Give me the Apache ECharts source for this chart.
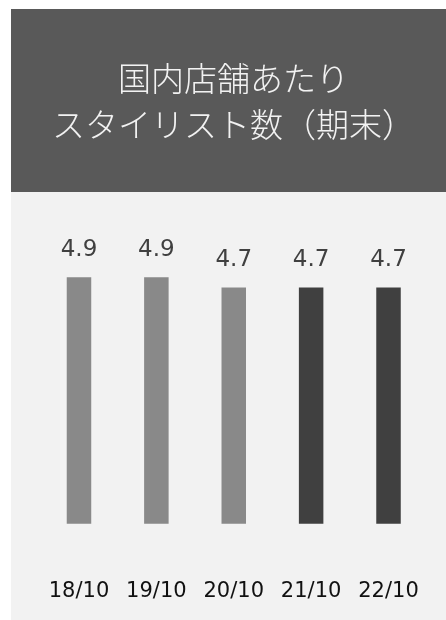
<!DOCTYPE html>
<html>
<head>
<meta charset="utf-8">
<script src="https://cdn.jsdelivr.net/npm/echarts@6/dist/echarts.min.js"></script>
<style>
  html, body { margin: 0; padding: 0; background: #ffffff; }
  #chart { width: 446px; height: 620px; }
</style>
</head>
<body>
<div id="chart"></div>
<script>
// Fiscal year-end periods and stylists per domestic salon
const categories = ['18/10', '19/10', '20/10', '21/10', '22/10'];
const stylistsPerSalon = [4.9, 4.9, 4.7, 4.7, 4.7];
const barColors = ['#898989', '#898989', '#898989', '#404040', '#404040'];
const titleText = '国内店舗あたり\nスタイリスト数（期末）';

const chart = echarts.init(document.getElementById('chart'), null, { renderer: 'canvas' });

chart.setOption({
  backgroundColor: '#ffffff',
  animation: false,
  graphic: [
    // header panel
    { type: 'rect', z: -10, shape: { x: 11, y: 9, width: 435, height: 183 }, style: { fill: '#595959' } },
    // plot panel
    { type: 'rect', z: -10, shape: { x: 11, y: 192, width: 435, height: 428 }, style: { fill: '#f2f2f2' } }
  ],
  title: {
    text: titleText,
    left: 228.5,
    top: 50,
    textAlign: 'center',
    textStyle: {
      color: '#f2f2f2',
      fontFamily: '"Noto Sans CJK JP", sans-serif',
      fontWeight: 300,
      fontSize: 33,
      lineHeight: 46
    }
  },
  grid: { left: 40.3, right: 18.8, top: 272.3, bottom: 96.3, containLabel: false },
  xAxis: {
    type: 'category',
    data: categories,
    axisLine: { show: false },
    axisTick: { show: false },
    axisLabel: {
      interval: 0,
      hideOverlap: false,
      margin: 57,
      color: '#111111',
      fontFamily: '"DejaVu Sans", Verdana, sans-serif',
      fontSize: 21
    }
  },
  yAxis: {
    type: 'value',
    min: 0,
    max: 5,
    show: false,
    splitLine: { show: false }
  },
  series: [{
    type: 'bar',
    barWidth: 24.5,
    data: stylistsPerSalon.map((v, i) => ({ value: v, itemStyle: { color: barColors[i] } })),
    label: {
      show: true,
      position: 'top',
      distance: 16,
      color: '#404040',
      fontFamily: '"DejaVu Sans", Verdana, sans-serif',
      fontSize: 23,
      formatter: p => p.value.toFixed(1)
    }
  }]
});
</script>
</body>
</html>
